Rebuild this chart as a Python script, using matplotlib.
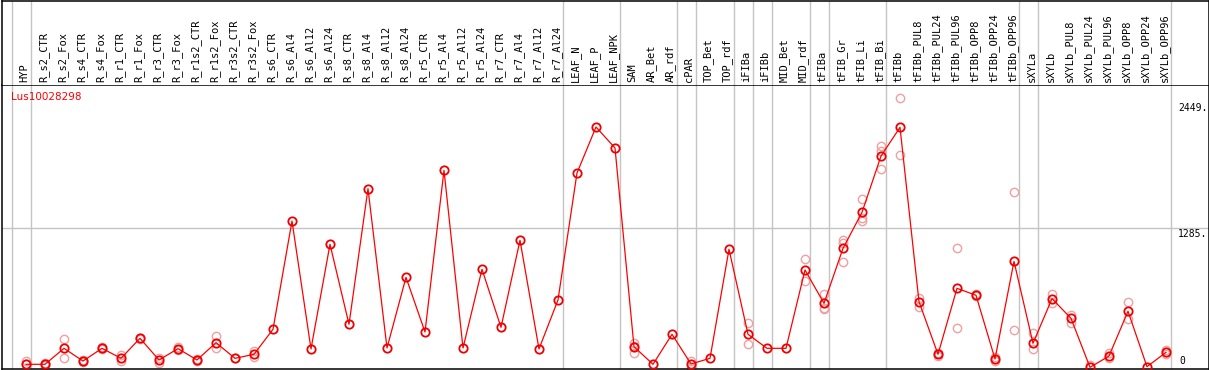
import matplotlib
matplotlib.use("Agg")
import matplotlib.pyplot as plt

# ---------------- data ----------------
samples = ["HYP", "R_s2_CTR", "R_s2_Fox", "R_s4_CTR", "R_s4_Fox", "R_r1_CTR", "R_r1_Fox",
           "R_r3_CTR", "R_r3_Fox", "R_r1s2_CTR", "R_r1s2_Fox", "R_r3s2_CTR", "R_r3s2_Fox",
           "R_s6_CTR", "R_s6_Al4", "R_s6_Al12", "R_s6_Al24",
           "R_s8_CTR", "R_s8_Al4", "R_s8_Al12", "R_s8_Al24",
           "R_r5_CTR", "R_r5_Al4", "R_r5_Al12", "R_r5_Al24",
           "R_r7_CTR", "R_r7_Al4", "R_r7_Al12", "R_r7_Al24",
           "LEAF_N", "LEAF_P", "LEAF_NPK", "SAM", "AR_Bet", "AR_rdf", "cPAR",
           "TOP_Bet", "TOP_rdf", "iFIBa", "iFIBb", "MID_Bet", "MID_rdf",
           "tFIBa", "tFIB_Gr", "tFIB_Li", "tFIB_Bi", "tFIBb",
           "tFIBb_PUL8", "tFIBb_PUL24", "tFIBb_PUL96", "tFIBb_OPP8", "tFIBb_OPP24", "tFIBb_OPP96",
           "sXYLa", "sXYLb",
           "sXYLb_PUL8", "sXYLb_PUL24", "sXYLb_PUL96", "sXYLb_OPP8", "sXYLb_OPP24", "sXYLb_OPP96"]

means = [34, 34, 181, 64, 181, 89, 273, 74, 178, 74, 233, 89, 126,
         356, 1352, 175, 1138,
         402, 1650, 184, 834,
         331, 1819, 184, 908,
         374, 1175, 175, 626,
         1794, 2217, 2024, 196, 34, 310, 37,
         89, 1092, 310, 181, 181, 902,
         595, 1101, 1432, 1950, 2214,
         610, 126, 733, 669, 83, 981,
         227, 638,
         457, 6, 110, 522, 12, 144]

replicates = [[67, 40], [49, 30], [264, 89], [70, 58], [190, 172], [120, 67], [280, 266],
              [95, 49], [196, 165], [80, 68], [294, 181], [89], [159, 100],
              [], [], [], [],
              [], [], [], [],
              [], [], [], [],
              [], [], [], [],
              [], [], [], [233, 135, 205], [], [], [67, 6],
              [], [], [411, 218], [], [], [1000, 800],
              [681, 540, 555], [1178, 1153, 978], [1552, 1383, 1355], [2042, 1996, 1828], [2481, 1957],
              [641, 558], [140, 110], [1101, 365], [680, 660], [100, 60], [1616, 350],
              [325, 172], [681, 601],
              [488, 417], [28], [135, 95], [607, 448], [], [166, 130]]

# index of the last sample of each group (separator drawn just after it)
group_ends = [-1, 0, 28, 31, 34, 35, 37, 38, 39, 41, 42, 45, 52, 53, 60]

gene = "Lus10028298"
ytick_values = [2449, 1285, 0]
ytick_labels = ["2449.", "1285.", "0"]

# ---------------- layout ----------------
W, H = 1209, 370
fig = plt.figure(figsize=(W / 100, H / 100), dpi=100)

x_left, x_right = 1.5, 1208.5
y_head_top, y_sep, y_bottom = 0.5, 85.0, 368.7
px0, pstep = 26.0, 19.0
xlim = ((x_left - px0) / pstep, (x_right - px0) / pstep)
ppu = 0.1087  # pixels per unit
y_zero = 368.0
ylim = ((y_zero - y_bottom) / ppu, (y_zero - y_sep) / ppu)

ax = fig.add_axes([x_left / W, (H - y_bottom) / H, (x_right - x_left) / W, (y_bottom - y_sep) / H])
axh = fig.add_axes([x_left / W, (H - y_sep) / H, (x_right - x_left) / W, (y_sep - y_head_top) / H])

grid_c = "#c4c4c4"
for a in (ax, axh):
    a.set_xlim(*xlim)
    a.set_xticks([])
    a.set_yticks([])
    for s in a.spines.values():
        s.set_color("black")
        s.set_linewidth(1.1)
    for g in group_ends:
        a.axvline(g + 0.25, color=grid_c, lw=1.0, zorder=0)
axh.set_ylim(0, 1)
axh.spines["bottom"].set_visible(False)
ax.set_ylim(*ylim)

ax.axhline(1285, color=grid_c, lw=1.0, zorder=0)

# replicates
rx, ry = [], []
for i, reps in enumerate(replicates):
    for v in reps:
        rx.append(i)
        ry.append(v)
ax.plot(rx, ry, linestyle="none", marker="o", markersize=6.0, markerfacecolor="none",
        markeredgecolor="#f0a0a0", markeredgewidth=1.0, zorder=2)

# mean line + markers
xs = list(range(len(samples)))
ax.plot(xs, means, color="#ff0000", lw=0.9, zorder=3)
ax.plot(xs, means, linestyle="none", marker="o", markersize=6.0, markerfacecolor="none",
        markeredgecolor="#ee0000", markeredgewidth=1.3, zorder=4)

# sample labels
mono = "DejaVu Sans Mono"
for i, s in enumerate(samples):
    axh.text(i - 0.08, 0.03, s, rotation=90, ha="center", va="bottom",
             fontsize=7.5, family=mono, color="black")

# gene label
ax.text(9.0 / (x_right - x_left), 1 - (91.5 - y_sep) / (y_bottom - y_sep), gene,
        transform=ax.transAxes, ha="left", va="top", color="#ff0000",
        fontsize=7.5, family="DejaVu Sans")

# value labels
lab_x = (1178 - px0) / pstep
for v, t in zip(ytick_values, ytick_labels):
    if v == 0:
        ax.text(lab_x + 0.05, 20, t, ha="left", va="bottom", fontsize=7.0, family=mono)
    else:
        ax.text(lab_x, v - 8, t, ha="left", va="top", fontsize=7.0, family=mono)

fig.savefig("out.png", dpi=100)
